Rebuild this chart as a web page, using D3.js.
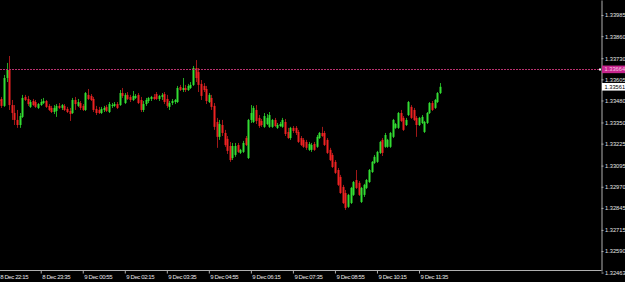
<!DOCTYPE html>
<html>
<head>
<meta charset="utf-8">
<script src="https://cdn.jsdelivr.net/npm/d3@7"></script>
<style>
  body { margin: 0; background: #000; }
  svg { display: block; }
</style>
</head>
<body>
<script>
// EURUSD-style M5 candles, [open, high, low, close]
var candles = [
  [1.33483,1.33507,1.33459,1.33477],[1.33489,1.33501,1.33436,1.33448],[1.33448,1.33631,1.33442,1.33613],[1.33613,1.33702,1.33589,1.33660],
  [1.33660,1.33743,1.33424,1.33453],[1.33453,1.33483,1.33365,1.33406],[1.33406,1.33453,1.33335,1.33365],[1.33365,1.33424,1.33318,1.33335],
  [1.33335,1.33406,1.33318,1.33388],[1.33383,1.33513,1.33377,1.33495],[1.33501,1.33513,1.33477,1.33483],[1.33489,1.33507,1.33448,1.33459],
  [1.33442,1.33483,1.33436,1.33471],[1.33477,1.33489,1.33448,1.33453],[1.33471,1.33483,1.33436,1.33442],[1.33436,1.33465,1.33430,1.33459],
  [1.33453,1.33489,1.33448,1.33471],[1.33465,1.33495,1.33459,1.33477],[1.33477,1.33483,1.33436,1.33442],[1.33448,1.33459,1.33418,1.33424],
  [1.33436,1.33448,1.33406,1.33412],[1.33412,1.33453,1.33400,1.33436],[1.33418,1.33459,1.33383,1.33448],[1.33448,1.33465,1.33430,1.33436],
  [1.33436,1.33459,1.33424,1.33453],[1.33448,1.33459,1.33418,1.33424],[1.33430,1.33442,1.33406,1.33412],[1.33418,1.33436,1.33359,1.33400],
  [1.33406,1.33495,1.33400,1.33483],[1.33483,1.33501,1.33424,1.33459],[1.33448,1.33489,1.33442,1.33471],[1.33465,1.33477,1.33424,1.33436],
  [1.33448,1.33459,1.33418,1.33424],[1.33424,1.33530,1.33418,1.33524],[1.33513,1.33548,1.33483,1.33489],[1.33507,1.33518,1.33477,1.33483],
  [1.33489,1.33501,1.33412,1.33424],[1.33430,1.33448,1.33394,1.33406],[1.33424,1.33442,1.33400,1.33406],[1.33406,1.33442,1.33400,1.33430],
  [1.33424,1.33448,1.33412,1.33436],[1.33442,1.33453,1.33412,1.33418],[1.33412,1.33471,1.33406,1.33459],[1.33448,1.33465,1.33436,1.33453],
  [1.33448,1.33471,1.33442,1.33459],[1.33459,1.33471,1.33430,1.33436],[1.33453,1.33542,1.33448,1.33524],[1.33524,1.33554,1.33495,1.33507],
  [1.33465,1.33524,1.33459,1.33513],[1.33513,1.33530,1.33483,1.33489],[1.33501,1.33513,1.33471,1.33483],[1.33483,1.33536,1.33477,1.33507],
  [1.33495,1.33518,1.33489,1.33507],[1.33513,1.33524,1.33459,1.33465],[1.33483,1.33501,1.33412,1.33424],[1.33424,1.33477,1.33412,1.33459],
  [1.33459,1.33495,1.33448,1.33483],[1.33477,1.33501,1.33465,1.33495],[1.33489,1.33507,1.33477,1.33501],[1.33501,1.33518,1.33483,1.33489],
  [1.33518,1.33530,1.33483,1.33489],[1.33489,1.33513,1.33477,1.33507],[1.33501,1.33524,1.33483,1.33513],[1.33518,1.33530,1.33459,1.33471],
  [1.33489,1.33513,1.33436,1.33448],[1.33442,1.33477,1.33424,1.33465],[1.33465,1.33489,1.33453,1.33477],[1.33471,1.33489,1.33459,1.33483],
  [1.33471,1.33566,1.33465,1.33554],[1.33560,1.33572,1.33536,1.33542],[1.33542,1.33613,1.33530,1.33554],[1.33554,1.33572,1.33530,1.33542],
  [1.33542,1.33578,1.33536,1.33566],[1.33554,1.33589,1.33548,1.33572],[1.33572,1.33684,1.33566,1.33672],[1.33672,1.33719,1.33589,1.33613],
  [1.33648,1.33672,1.33530,1.33572],[1.33578,1.33601,1.33483,1.33507],[1.33566,1.33583,1.33530,1.33542],[1.33548,1.33566,1.33459,1.33477],
  [1.33471,1.33524,1.33465,1.33513],[1.33495,1.33513,1.33424,1.33442],[1.33448,1.33465,1.33306,1.33324],[1.33353,1.33377,1.33200,1.33265],
  [1.33265,1.33365,1.33247,1.33341],[1.33335,1.33365,1.33270,1.33288],[1.33288,1.33306,1.33206,1.33217],[1.33253,1.33270,1.33164,1.33182],
  [1.33211,1.33235,1.33117,1.33128],[1.33140,1.33229,1.33128,1.33211],[1.33158,1.33229,1.33147,1.33211],[1.33217,1.33229,1.33170,1.33176],
  [1.33170,1.33194,1.33164,1.33188],[1.33176,1.33241,1.33170,1.33229],[1.33258,1.33270,1.33211,1.33217],[1.33140,1.33371,1.33134,1.33365],
  [1.33365,1.33453,1.33347,1.33406],[1.33353,1.33448,1.33347,1.33436],[1.33424,1.33453,1.33341,1.33359],[1.33377,1.33394,1.33318,1.33329],
  [1.33359,1.33371,1.33324,1.33335],[1.33324,1.33406,1.33318,1.33388],[1.33341,1.33400,1.33335,1.33377],[1.33324,1.33412,1.33318,1.33394],
  [1.33324,1.33371,1.33318,1.33365],[1.33365,1.33377,1.33324,1.33329],[1.33318,1.33347,1.33312,1.33335],[1.33329,1.33353,1.33324,1.33341],
  [1.33324,1.33377,1.33318,1.33365],[1.33353,1.33371,1.33270,1.33282],[1.33294,1.33318,1.33253,1.33258],[1.33258,1.33324,1.33247,1.33318],
  [1.33318,1.33329,1.33288,1.33300],[1.33318,1.33329,1.33276,1.33288],[1.33294,1.33306,1.33229,1.33235],[1.33258,1.33270,1.33211,1.33217],
  [1.33247,1.33258,1.33200,1.33206],[1.33235,1.33247,1.33188,1.33200],[1.33188,1.33235,1.33182,1.33223],[1.33188,1.33229,1.33176,1.33217],
  [1.33223,1.33235,1.33182,1.33188],[1.33206,1.33276,1.33200,1.33265],[1.33258,1.33294,1.33253,1.33288],[1.33288,1.33324,1.33265,1.33270],
  [1.33288,1.33300,1.33211,1.33217],[1.33247,1.33258,1.33164,1.33170],[1.33188,1.33200,1.33122,1.33128],[1.33158,1.33170,1.33081,1.33087],
  [1.33117,1.33128,1.33046,1.33052],[1.33069,1.33081,1.32975,1.32981],[1.33028,1.33040,1.32928,1.32933],[1.32969,1.32981,1.32868,1.32874],
  [1.32933,1.32951,1.32833,1.32845],[1.32851,1.32928,1.32845,1.32922],[1.32874,1.32969,1.32868,1.32963],[1.32922,1.33004,1.32916,1.32998],
  [1.33010,1.33069,1.32957,1.32963],[1.32993,1.33004,1.32916,1.32922],[1.32880,1.32969,1.32874,1.32963],[1.32922,1.32987,1.32910,1.32981],
  [1.32963,1.33016,1.32957,1.33010],[1.32998,1.33075,1.32993,1.33069],[1.33057,1.33122,1.33052,1.33117],[1.33111,1.33158,1.33105,1.33147],
  [1.33117,1.33182,1.33111,1.33176],[1.33170,1.33241,1.33164,1.33235],[1.33247,1.33258,1.33152,1.33170],[1.33206,1.33288,1.33200,1.33276],
  [1.33206,1.33253,1.33200,1.33247],[1.33206,1.33294,1.33200,1.33288],[1.33265,1.33371,1.33258,1.33365],[1.33318,1.33347,1.33312,1.33341],
  [1.33318,1.33412,1.33312,1.33406],[1.33406,1.33424,1.33353,1.33359],[1.33377,1.33388,1.33300,1.33306],[1.33335,1.33377,1.33329,1.33365],
  [1.33394,1.33477,1.33388,1.33471],[1.33442,1.33453,1.33371,1.33377],[1.33424,1.33436,1.33359,1.33365],[1.33377,1.33388,1.33265,1.33335],
  [1.33335,1.33383,1.33329,1.33377],[1.33347,1.33394,1.33341,1.33383],[1.33294,1.33359,1.33288,1.33353],[1.33347,1.33412,1.33341,1.33406],
  [1.33406,1.33471,1.33400,1.33465],[1.33465,1.33477,1.33418,1.33424],[1.33436,1.33489,1.33430,1.33483],[1.33471,1.33530,1.33465,1.33524],
  [1.33524,1.33583,1.33518,1.33561]
];

// every 16th bar gets a time label
var timeTickBars = [0, 16, 32, 48, 64, 80, 96, 112, 128, 144, 160];
var timeLabels = ["8 Dec 22:15", "8 Dec 23:35", "9 Dec 00:55", "9 Dec 02:15", "9 Dec 03:35", "9 Dec 04:55",
                  "9 Dec 06:15", "9 Dec 07:35", "9 Dec 08:55", "9 Dec 10:15", "9 Dec 11:35"];

var priceTicks = [1.33985, 1.33860, 1.33730, 1.33605, 1.33480, 1.33350, 1.33225,
                  1.33095, 1.32970, 1.32845, 1.32715, 1.32590, 1.32463];

var hLinePrice = 1.33664,
    bidPrice = 1.33561;

(function() {

  var width = 625,
      height = 282,
      axisX = 601,
      axisY = 270.5;

  var bullColor = "#33dd33",
      bearColor = "#ee2222",
      axisColor = "#b0b0b0",
      textColor = "#e6e6e6",
      hLineColor = "#b8306e";

  var svg = d3.select("body").append("svg")
      .attr("width", width)
      .attr("height", height)
      .style("background", "#000")
      .style("font-family", "'Liberation Sans', Arial, sans-serif");

  var x = d3.scaleLinear()
      .domain([0, candles.length - 1])
      .range([-1.3, 440]);

  var y = d3.scaleLinear()
      .domain([1.32472, 1.34074])
      .range([271, 0]);

  var bodyW = 2;

  // wicks
  svg.append("g").selectAll("line")
      .data(candles)
      .enter()
      .append("line")
      .attr("x1", function(d, i) { return Math.round(x(i)) + 0.5; })
      .attr("x2", function(d, i) { return Math.round(x(i)) + 0.5; })
      .attr("y1", function(d) { return y(d[1]); })
      .attr("y2", function(d) { return y(d[2]); })
      .attr("stroke", function(d) { return d[3] >= d[0] ? "#22aa22" : "#a01818"; })
      .attr("stroke-width", 1);

  // bodies
  svg.append("g").selectAll("rect")
      .data(candles)
      .enter()
      .append("rect")
      .attr("x", function(d, i) { return Math.round(x(i)) - 0.5; })
      .attr("y", function(d) { return y(Math.max(d[0], d[3])); })
      .attr("width", bodyW)
      .attr("height", function(d) { return Math.max(1, Math.abs(y(d[0]) - y(d[3]))); })
      .attr("fill", function(d) { return d[3] >= d[0] ? bullColor : bearColor; });

  // dotted horizontal line, drawn as small dots
  var hy = Math.round(y(hLinePrice));
  svg.append("g").selectAll("rect")
      .data(d3.range(0, axisX - 2, 3))
      .enter()
      .append("rect")
      .attr("x", function(d) { return d; })
      .attr("y", hy)
      .attr("width", 2)
      .attr("height", 1)
      .attr("fill", hLineColor);

  svg.append("rect")
      .attr("x", axisX - 2)
      .attr("y", hy - 0.5)
      .attr("width", 2)
      .attr("height", 2)
      .attr("fill", "#fff");

  // right price axis
  var yAxis = d3.axisRight(y)
      .tickValues(priceTicks)
      .tickFormat(d3.format(".5f"))
      .tickSize(2)
      .tickSizeOuter(0)
      .tickPadding(1.5);

  var gy = svg.append("g")
      .attr("transform", "translate(" + (axisX + 0.5) + ",0)")
      .call(yAxis);
  gy.select(".domain").attr("stroke", axisColor);
  gy.selectAll(".tick line").attr("stroke", axisColor);
  gy.selectAll(".tick text")
      .attr("fill", textColor)
      .style("font-size", "5.7px")
      .style("font-family", "'Liberation Sans', Arial, sans-serif");

  // bottom border line
  svg.append("line")
      .attr("x1", 0)
      .attr("x2", axisX + 0.5)
      .attr("y1", axisY)
      .attr("y2", axisY)
      .attr("stroke", axisColor);

  var xAxis = d3.axisBottom(x)
      .tickValues(timeTickBars)
      .tickFormat(function(d, i) { return timeLabels[i]; })
      .tickSize(3)
      .tickSizeOuter(0);

  var gx = svg.append("g")
      .attr("transform", "translate(0," + axisY + ")")
      .call(xAxis);
  gx.select(".domain").remove();
  gx.selectAll(".tick line").attr("stroke", axisColor);
  gx.selectAll(".tick text")
      .attr("fill", textColor)
      .attr("text-anchor", "start")
      .attr("x", 1)
      .attr("y", 4)
      .style("font-size", "6px")
      .style("letter-spacing", "-0.4px")
      .style("font-family", "'Liberation Sans', Arial, sans-serif");

  // price label boxes on the axis
  function priceBox(price, fill, txt) {
    var cy = y(price);
    svg.append("rect")
        .attr("x", axisX + 1)
        .attr("y", cy - 3.8)
        .attr("width", width - axisX)
        .attr("height", 7.6)
        .attr("fill", fill);
    svg.append("text")
        .attr("x", axisX + 3.5)
        .attr("y", cy)
        .attr("dy", "0.34em")
        .attr("fill", txt)
        .style("font-size", "5.7px")
        .text(d3.format(".5f")(price));
  }

  priceBox(hLinePrice, "#c8268e", "#f4c6e4");
  priceBox(bidPrice, "#ffffff", "#000000");

})();
</script>
</body>
</html>
